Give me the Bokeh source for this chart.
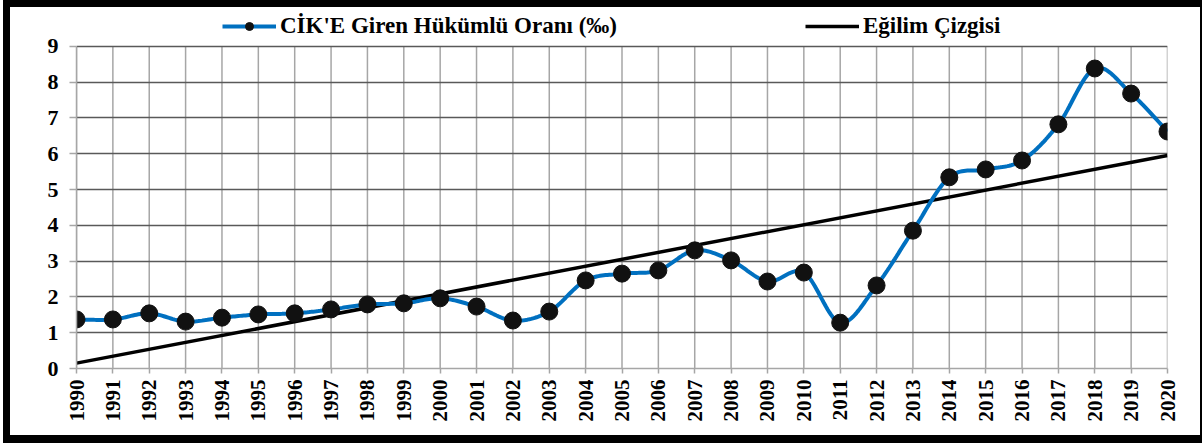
import math
import numpy as np
from bokeh.plotting import figure
from bokeh.models import FixedTicker, Legend, LegendItem, Range1d
from bokeh.embed import file_html
from bokeh.resources import INLINE

years = list(range(1990, 2021))
rates = [1.37, 1.37, 1.54, 1.31, 1.42, 1.51, 1.54, 1.65, 1.79, 1.82,
         1.96, 1.73, 1.34, 1.59, 2.46, 2.65, 2.74, 3.30, 3.02, 2.43,
         2.68, 1.28, 2.32, 3.85, 5.34, 5.56, 5.81, 6.82, 8.38, 7.68,
         6.62]
trend_years = [1990, 2020]
trend_values = [0.15, 5.95]
y_ticks = list(range(0, 10))
series_label = "CİK'E Giren Hükümlü Oranı (‰)"
trend_label = "Eğilim Çizgisi"

# Smoothed curve (Catmull-Rom as in spreadsheet "smoothed line")
def smooth(xs, ys, n=20):
    xs = np.asarray(xs, float); ys = np.asarray(ys, float)
    px = np.concatenate([[xs[0]], xs, [xs[-1]]])
    py = np.concatenate([[ys[0]], ys, [ys[-1]]])
    ox, oy = [], []
    for i in range(1, len(px) - 2):
        p0x, p1x, p2x, p3x = px[i-1], px[i], px[i+1], px[i+2]
        p0y, p1y, p2y, p3y = py[i-1], py[i], py[i+1], py[i+2]
        c1x = p1x + (p2x - p0x) / 6; c1y = p1y + (p2y - p0y) / 6
        c2x = p2x - (p3x - p1x) / 6; c2y = p2y - (p3y - p1y) / 6
        t = np.linspace(0, 1, n, endpoint=False)
        bx = (1-t)**3*p1x + 3*(1-t)**2*t*c1x + 3*(1-t)*t**2*c2x + t**3*p2x
        by = (1-t)**3*p1y + 3*(1-t)**2*t*c1y + 3*(1-t)*t**2*c2y + t**3*p2y
        ox.extend(bx); oy.extend(by)
    ox.append(xs[-1]); oy.append(ys[-1])
    return ox, oy

sx, sy = smooth(years, rates)
y_top = y_ticks[-1]

W, H = 1202, 443
p = figure(width=W, height=H, output_backend="svg", toolbar_location=None,
           x_range=Range1d(1990, 2020), y_range=Range1d(0, 10),
           min_border_left=76, min_border_right=35, min_border_top=10, min_border_bottom=75,
           styles={"box-shadow": "inset 3px 0 0 0 white, inset 10px 7px 0 0 black, inset -2px -8px 0 0 black"})
p.background_fill_color = "white"
p.border_fill_alpha = 0
p.outline_line_color = None

# grid: horizontal from the library grid, vertical lines limited to 0..9
p.ygrid.ticker = FixedTicker(ticks=y_ticks)
p.ygrid.grid_line_color = "#595959"
p.ygrid.grid_line_width = 1.5
p.xgrid.grid_line_color = None
p.segment(x0=years, y0=[0] * len(years), x1=years, y1=[y_top] * len(years),
          line_color="#a6a6a6", line_width=1.5, level="underlay")

# axes
xa = p.xaxis[0]
xa.ticker = FixedTicker(ticks=years)
xa.major_label_overrides = {y: str(y) for y in years}
xa.major_label_orientation = math.pi / 2
xa.major_label_text_font = "Liberation Serif"
xa.major_label_text_font_style = "bold"
xa.major_label_text_font_size = "21px"
xa.major_label_text_color = "black"
xa.axis_line_color = "#a6a6a6"
xa.axis_line_width = 1.5
xa.major_tick_line_color = "#a6a6a6"
xa.major_tick_line_width = 1.5
xa.major_tick_out = 5
xa.major_tick_in = 0
xa.minor_tick_line_color = None
xa.major_label_standoff = 6

ya = p.yaxis[0]
ya.ticker = FixedTicker(ticks=y_ticks)
ya.bounds = (0, y_top)
ya.major_label_text_font = "Liberation Serif"
ya.major_label_text_font_style = "bold"
ya.major_label_text_font_size = "22px"
ya.major_label_text_color = "black"
ya.axis_line_color = "#a6a6a6"
ya.axis_line_width = 1.5
ya.major_tick_line_color = "#a6a6a6"
ya.major_tick_line_width = 1.5
ya.major_tick_out = 7
ya.major_tick_in = 0
ya.minor_tick_line_color = None
ya.major_label_standoff = 11

# data
tr = p.line(trend_years, trend_values, line_color="black", line_width=3.5)
ln = p.line(sx, sy, line_color="#0070C0", line_width=4)
sc = p.scatter(years, rates, size=17, fill_color="#111111", line_color="#111111")

legend = Legend(items=[LegendItem(label=series_label, renderers=[ln, sc]),
                       LegendItem(label=trend_label, renderers=[tr])],
                orientation="horizontal", location=(146, 329),
                glyph_width=54, glyph_height=20, label_standoff=4, spacing=188,
                padding=0, margin=0, border_line_color=None,
                background_fill_alpha=0,
                label_text_font="Liberation Serif", label_text_font_style="bold",
                label_text_font_size="23px", label_text_color="black")
p.add_layout(legend, "center")

open("out.html", "w").write(file_html(p, INLINE))
